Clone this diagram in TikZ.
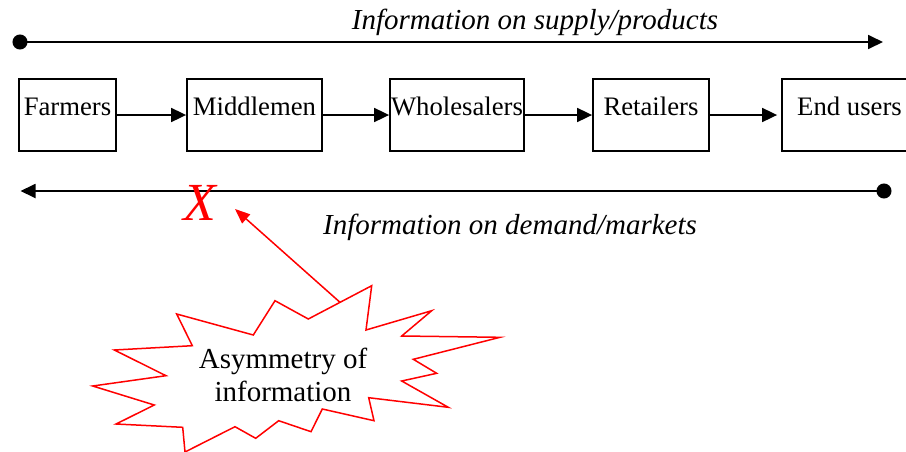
\documentclass[tikz,border=0pt]{standalone}
\usepackage{fontspec}
\setmainfont{Liberation Serif}
\usetikzlibrary{arrows.meta,positioning}
\definecolor{alarm}{HTML}{FF0000}

\begin{document}
\begin{tikzpicture}[x=0.5pt,y=-0.5pt,
    actor/.style={draw,line width=0.9pt,inner xsep=0pt,inner ysep=0pt,
      text height=18pt,text depth=18pt,font=\fontsize{13.35}{16}\selectfont},
    flow/.style={line width=0.9pt,-{Triangle[length=7.5pt,width=7pt]}},
    infoline/.style={line width=0.9pt,{Circle[length=7.5pt]}-{Triangle[length=7.5pt,width=7pt]}},
    infotext/.style={font=\fontsize{14.5}{16}\selectfont\itshape}]
  \useasboundingbox (0,0) rectangle (906,451);
  \clip (0,0) rectangle (906,451);

  \node[actor,minimum width=48.5pt] (farmers) at (67.5,115) {Farmers};
  \node[actor,minimum width=67.5pt] (middlemen) at (254.5,115) {Middlemen};
  \node[actor,minimum width=67pt] (wholesalers) at (457,115) {Wholesalers};
  \node[actor,minimum width=58pt] (retailers) at (651,115) {Retailers};
  \node[actor,minimum width=67.5pt] (endusers) at (849.5,115) {End users};
  \draw[flow] (farmers) -- (middlemen);
  \draw[flow] (middlemen) -- (wholesalers);
  \draw[flow] (wholesalers) -- (retailers);
  \draw[flow,shorten >=2pt] (retailers) -- (endusers);

  \coordinate (supplystart) at (12.5,42);
  \coordinate (supplyend) at (883,42);
  \draw[infoline] (supplystart) -- (supplyend);
  \node[infotext,anchor=base] (supplylabel) at (535,29) {Information on supply/products};

  \coordinate (demandstart) at (891.5,191);
  \coordinate (demandend) at (20.5,191);
  \draw[infoline] (demandstart) -- (demandend);
  \node[infotext,anchor=base] (demandlabel) at (510,234) {Information on demand/markets};

  \node[text=alarm,font=\fontsize{26.8}{30}\selectfont\itshape,anchor=base,inner sep=0pt]
    (gap) at (200,220) {X};

  \draw[alarm,line width=0.75pt,fill=white,line join=miter]
    (371.7,285.7) -- (366,330) -- (431.7,310.7) -- (401.7,336) -- (500,337.3)
    -- (413.3,359.3) -- (436.7,373.3) -- (401.7,381) -- (448.3,407.3)
    -- (368.7,397.7) -- (374,420.7) -- (322.3,409) -- (311,431.7)
    -- (278.7,420.7) -- (255.7,438.3) -- (235,426.7) -- (185,452)
    -- (182.7,427.3) -- (116,424) -- (154.3,405) -- (92.7,386)
    -- (166,375.7) -- (114.3,350) -- (192.3,345.7) -- (176.7,314)
    -- (253.3,335) -- (275,300.7) -- (308.3,319) -- cycle;
  \node[align=center,font=\fontsize{14.5}{16.5}\selectfont] (asym) at (283,374.5)
    {Asymmetry of\\information};

  \coordinate (burst) at (340,302.3);
  \coordinate (pointer) at (235,209);
  \draw[alarm,line width=0.75pt,-{Triangle[length=7.5pt,width=6pt]}] (burst) -- (pointer);
\end{tikzpicture}
\end{document}
